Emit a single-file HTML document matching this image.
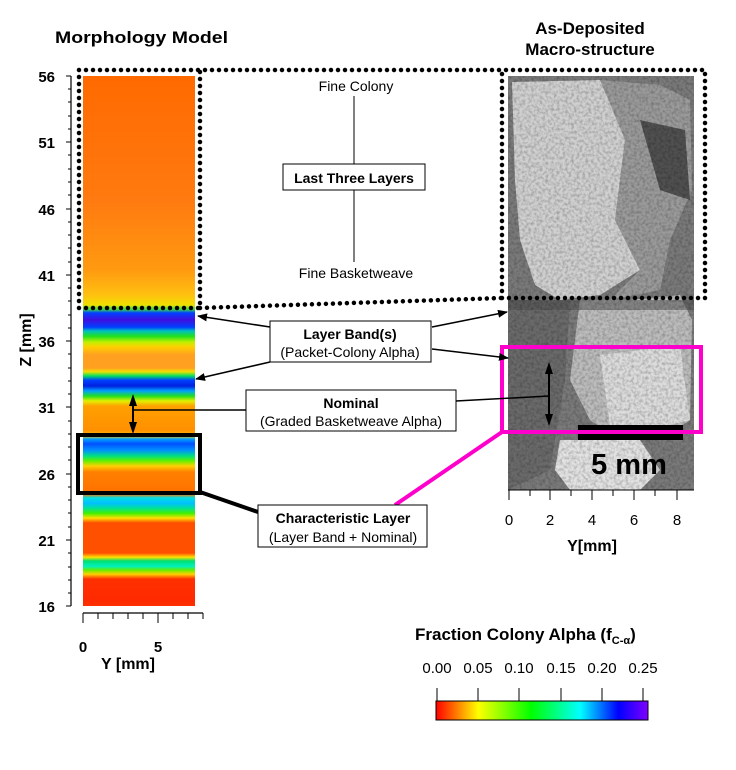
<!DOCTYPE html>
<html><head><meta charset="utf-8"><style>
html,body{margin:0;padding:0;background:#fff;}
svg{display:block;font-family:"Liberation Sans",Arial,sans-serif;}
</style></head><body>
<svg width="736" height="770" viewBox="0 0 736 770" xmlns="http://www.w3.org/2000/svg">
<defs>
<linearGradient id="col" gradientUnits="userSpaceOnUse" x1="0" y1="76" x2="0" y2="606">
<stop offset="0" stop-color="#ff6a00"/>
<stop offset="0.234" stop-color="#ff7a10"/>
<stop offset="0.366" stop-color="#ff9a10"/>
<stop offset="0.413" stop-color="#ffc010"/>
<stop offset="0.432" stop-color="#f0e000"/>
<stop offset="0.440" stop-color="#40e040"/>
<stop offset="0.447" stop-color="#0040ff"/>
<stop offset="0.460" stop-color="#4010e0"/>
<stop offset="0.474" stop-color="#0040ff"/>
<stop offset="0.481" stop-color="#00c0c0"/>
<stop offset="0.491" stop-color="#20e020"/>
<stop offset="0.502" stop-color="#c0f000"/>
<stop offset="0.511" stop-color="#ffd000"/>
<stop offset="0.526" stop-color="#ffa020"/>
<stop offset="0.551" stop-color="#ffa020"/>
<stop offset="0.558" stop-color="#f0e000"/>
<stop offset="0.566" stop-color="#00e060"/>
<stop offset="0.574" stop-color="#0040ff"/>
<stop offset="0.585" stop-color="#0020e0"/>
<stop offset="0.594" stop-color="#00a0ff"/>
<stop offset="0.604" stop-color="#20e020"/>
<stop offset="0.613" stop-color="#e0f000"/>
<stop offset="0.623" stop-color="#ffa000"/>
<stop offset="0.668" stop-color="#ff9000"/>
<stop offset="0.679" stop-color="#ffc000"/>
<stop offset="0.685" stop-color="#00a0ff"/>
<stop offset="0.694" stop-color="#0050ff"/>
<stop offset="0.706" stop-color="#0090ff"/>
<stop offset="0.717" stop-color="#00e080"/>
<stop offset="0.726" stop-color="#60f000"/>
<stop offset="0.736" stop-color="#ffd000"/>
<stop offset="0.747" stop-color="#ff8000"/>
<stop offset="0.789" stop-color="#ff7000"/>
<stop offset="0.796" stop-color="#00e0e0"/>
<stop offset="0.806" stop-color="#00c0ff"/>
<stop offset="0.815" stop-color="#00e0a0"/>
<stop offset="0.825" stop-color="#40f000"/>
<stop offset="0.834" stop-color="#ffe000"/>
<stop offset="0.843" stop-color="#ff5000"/>
<stop offset="0.900" stop-color="#ff5000"/>
<stop offset="0.908" stop-color="#ffe000"/>
<stop offset="0.915" stop-color="#00e070"/>
<stop offset="0.925" stop-color="#00f0c0"/>
<stop offset="0.932" stop-color="#60f000"/>
<stop offset="0.940" stop-color="#ffd000"/>
<stop offset="0.949" stop-color="#ff3000"/>
<stop offset="0.989" stop-color="#ff2a00"/>
<stop offset="1" stop-color="#ff3000"/>
</linearGradient>
<linearGradient id="bar" x1="0" y1="0" x2="1" y2="0">
<stop offset="0" stop-color="#ff0000"/>
<stop offset="0.2" stop-color="#ffff00"/>
<stop offset="0.45" stop-color="#00ff00"/>
<stop offset="0.68" stop-color="#00ffff"/>
<stop offset="0.86" stop-color="#0000ff"/>
<stop offset="1" stop-color="#8000ff"/>
</linearGradient>
<filter id="noise" x="0" y="0" width="100%" height="100%">
<feTurbulence type="fractalNoise" baseFrequency="0.35" numOctaves="2" seed="3"/>
<feColorMatrix type="matrix" values="0 0 0 0 0  0 0 0 0 0  0 0 0 0 0  0 0 0 1.6 -0.6"/>
</filter>
<marker id="ah" markerWidth="10" markerHeight="8" refX="9" refY="4" orient="auto" markerUnits="userSpaceOnUse">
<path d="M0,0 L10,4 L0,8 z" fill="#000"/>
</marker>
</defs>

<!-- Titles -->
<text x="55" y="43" font-size="17" font-weight="bold" textLength="173" lengthAdjust="spacingAndGlyphs">Morphology Model</text>
<text x="590" y="34" font-size="17" font-weight="bold" text-anchor="middle">As-Deposited</text>
<text x="590" y="55" font-size="17" font-weight="bold" text-anchor="middle">Macro-structure</text>

<!-- Left model column -->
<rect x="83" y="76" width="112" height="530" fill="url(#col)"/>

<!-- Z axis -->
<line x1="71" y1="76" x2="71" y2="606" stroke="#000" stroke-width="1.2"/>
<g stroke="#000" stroke-width="1">
<path d="M66,76H71M66,142H71M66,209H71M66,275H71M66,341H71M66,407H71M66,474H71M66,540H71M66,606H71"/>
<path d="M68,89H71M68,102H71M68,116H71M68,129H71M68,155H71M68,169H71M68,182H71M68,195H71M68,222H71M68,235H71M68,248H71M68,262H71M68,288H71M68,301H71M68,315H71M68,328H71M68,354H71M68,368H71M68,381H71M68,394H71M68,421H71M68,434H71M68,447H71M68,460H71M68,487H71M68,500H71M68,513H71M68,527H71M68,553H71M68,567H71M68,580H71M68,593H71"/>
</g>
<g font-size="15" font-weight="bold" text-anchor="end">
<text x="55" y="82">56</text><text x="55" y="148">51</text><text x="55" y="215">46</text><text x="55" y="281">41</text><text x="55" y="347">36</text><text x="55" y="413">31</text><text x="55" y="480">26</text><text x="55" y="546">21</text><text x="55" y="612">16</text>
</g>
<text transform="translate(31,340) rotate(-90)" font-size="16" font-weight="bold" text-anchor="middle">Z [mm]</text>

<!-- Y axis left -->
<line x1="83" y1="613" x2="203" y2="613" stroke="#000" stroke-width="1.2"/>
<path d="M83,613V623M98,613V619M113,613V619M128,613V619M143,613V619M158,613V623M173,613V619M188,613V619M203,613V619" stroke="#000"/>
<text x="83" y="652" font-size="15" font-weight="bold" text-anchor="middle">0</text>
<text x="158" y="652" font-size="15" font-weight="bold" text-anchor="middle">5</text>
<text x="128" y="669" font-size="16" font-weight="bold" text-anchor="middle">Y [mm]</text>

<!-- Micrograph -->
<rect x="508" y="76" width="186" height="414" fill="#7a7a7a"/>
<polygon points="512,82 600,80 640,90 625,140 615,220 640,270 600,295 560,300 535,285 520,240 515,180" fill="#d0d0d0"/>
<polygon points="600,80 660,85 690,100 692,190 670,240 660,290 610,300 640,270 615,220 625,140" fill="#9a9a9a"/>
<polygon points="640,120 685,130 690,200 660,190" fill="#505050"/>
<polygon points="580,300 630,300 680,295 692,320 690,420 660,440 620,440 590,420 570,380" fill="#bcbcbc"/>
<polygon points="600,355 680,345 690,420 650,430 610,425" fill="#dcdcdc"/>
<polygon points="560,440 640,440 660,470 640,490 570,490 555,470" fill="#e2e2e2"/>
<polygon points="508,300 570,300 565,380 550,470 508,490" fill="#6a6a6a"/>
<rect x="508" y="300" width="186" height="10" fill="#4a4a4a" opacity="0.5"/>
<rect x="508" y="76" width="186" height="414" filter="url(#noise)" opacity="0.3"/>
<!-- micro axis -->
<line x1="508" y1="490" x2="694" y2="490" stroke="#000"/>
<path d="M509,490V500M530,490V496M550,490V500M571,490V496M592,490V500M613,490V496M634,490V500M655,490V496M677,490V500" stroke="#000"/>
<g font-size="15" text-anchor="middle"><text x="509" y="525">0</text><text x="550" y="525">2</text><text x="592" y="525">4</text><text x="634" y="525">6</text><text x="677" y="525">8</text></g>
<text x="592" y="551" font-size="16" font-weight="bold" text-anchor="middle">Y[mm]</text>
<!-- scale bar -->
<rect x="578" y="425" width="105" height="15" fill="#000"/>
<text x="629" y="474" font-size="29" font-weight="bold" text-anchor="middle">5 mm</text>

<!-- Dotted outline -->
<path d="M79,70 H705 V298 H502 V70 M79,70 V308 H200 V70 M200,308 L502,298" fill="none" stroke="#000" stroke-width="4.5" stroke-linecap="round" stroke-dasharray="0 7"/>

<!-- Characteristic layer box -->
<rect x="78" y="435" width="122" height="58" fill="none" stroke="#000" stroke-width="4"/>
<line x1="200" y1="492" x2="258" y2="512" stroke="#000" stroke-width="4"/>
<!-- magenta -->
<rect x="502" y="347" width="199" height="85" fill="none" stroke="#ff00cc" stroke-width="4"/>
<line x1="502" y1="432" x2="395" y2="505" stroke="#ff00cc" stroke-width="4"/>

<!-- Top labels -->
<text x="356" y="91" font-size="14" text-anchor="middle">Fine Colony</text>
<line x1="354" y1="96" x2="354" y2="164" stroke="#000"/>
<rect x="283" y="164" width="142" height="26" fill="#fff" stroke="#000"/>
<text x="354" y="183" font-size="14" font-weight="bold" text-anchor="middle">Last Three Layers</text>
<line x1="354" y1="190" x2="354" y2="262" stroke="#000"/>
<text x="356" y="278" font-size="14" text-anchor="middle">Fine Basketweave</text>

<!-- Layer bands -->
<line x1="270" y1="327" x2="198" y2="316" stroke="#000" stroke-width="1.5" marker-end="url(#ah)"/>
<line x1="270" y1="362" x2="196" y2="379" stroke="#000" stroke-width="1.5" marker-end="url(#ah)"/>
<line x1="432" y1="327" x2="507" y2="312" stroke="#000" stroke-width="1.5" marker-end="url(#ah)"/>
<line x1="432" y1="349" x2="508" y2="358" stroke="#000" stroke-width="1.5" marker-end="url(#ah)"/>
<rect x="270" y="321" width="161" height="41" fill="#fff" stroke="#000"/>
<text x="350" y="339" font-size="14" font-weight="bold" text-anchor="middle">Layer Band(s)</text>
<text x="350" y="357" font-size="14" text-anchor="middle">(Packet-Colony Alpha)</text>

<!-- Nominal -->
<line x1="246" y1="410" x2="133" y2="410" stroke="#000" stroke-width="1.5"/>
<line x1="133" y1="400" x2="133" y2="428" stroke="#000" stroke-width="2"/>
<path d="M133,394 L137,406 L129,406 Z M133,434 L137,422 L129,422 Z" fill="#000"/>
<line x1="456" y1="401" x2="549" y2="396" stroke="#000" stroke-width="1.5"/>
<line x1="549" y1="368" x2="549" y2="420" stroke="#000" stroke-width="2"/>
<path d="M549,362 L553,374 L545,374 Z M549,426 L553,414 L545,414 Z" fill="#000"/>
<rect x="246" y="390" width="210" height="41" fill="#fff" stroke="#000"/>
<text x="351" y="408" font-size="14" font-weight="bold" text-anchor="middle">Nominal</text>
<text x="351" y="426" font-size="14" text-anchor="middle">(Graded Basketweave Alpha)</text>

<!-- Characteristic -->
<rect x="258" y="505" width="169" height="42" fill="#fff" stroke="#000"/>
<text x="343" y="523" font-size="14" font-weight="bold" text-anchor="middle">Characteristic Layer</text>
<text x="343" y="542" font-size="14" text-anchor="middle">(Layer Band + Nominal)</text>

<!-- Colorbar -->
<text x="415" y="640" font-size="17" font-weight="bold">Fraction Colony Alpha (f<tspan font-size="11" dy="4">C-α</tspan><tspan dy="-4">)</tspan></text>
<g font-size="15" text-anchor="middle">
<text x="437" y="673">0.00</text><text x="478" y="673">0.05</text><text x="519" y="673">0.10</text><text x="561" y="673">0.15</text><text x="602" y="673">0.20</text><text x="643" y="673">0.25</text>
</g>
<path d="M437,688V701M478,688V701M519,688V701M561,688V701M602,688V701M643,688V701" stroke="#000"/>
<rect x="436" y="701" width="212" height="19" fill="url(#bar)" stroke="#000"/>
</svg>
</body></html>
